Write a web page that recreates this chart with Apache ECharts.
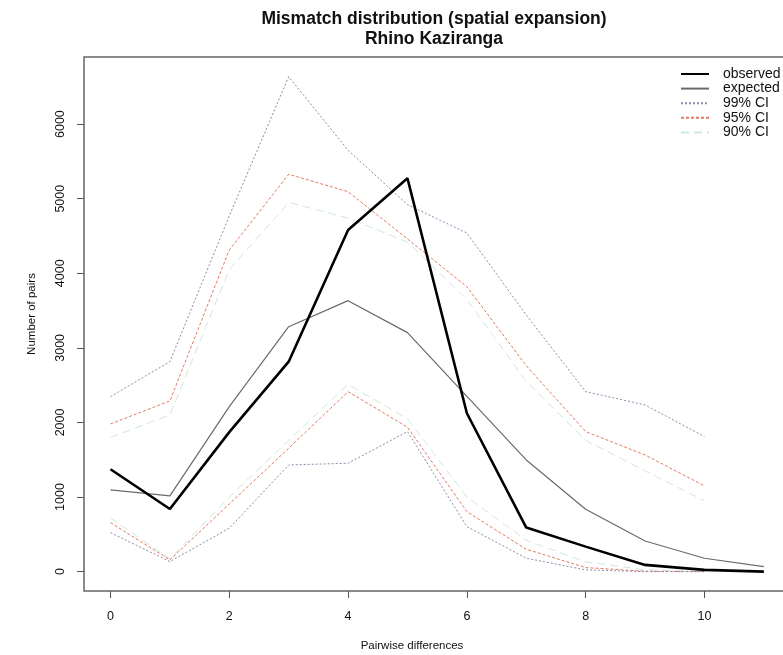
<!DOCTYPE html>
<html>
<head>
<meta charset="utf-8">
<script src="https://cdn.jsdelivr.net/npm/echarts@6/dist/echarts.min.js"></script>
<style>html,body{margin:0;padding:0;background:#fff;}#c{width:783px;height:655px;}</style>
</head>
<body>
<div id="c"></div>
<script>
var xs = [0, 1, 2, 3, 4, 5, 6, 7, 8, 9, 10, 11];
var observed = [1372, 840, 1870, 2815, 4580, 5273, 2123, 590, 335, 90, 23, 0];
var expected = [1095, 1015, 2212, 3284, 3633, 3204, 2350, 1497, 836, 411, 179, 67];
var ci99Upper = [2346, 2815, 4770, 6635, 5650, 4920, 4540, 3440, 2413, 2235, 1810];
var ci99Lower = [523, 134, 582, 1430, 1453, 1877, 603, 180, 23, 0, 0];
var ci95Upper = [1980, 2288, 4312, 5327, 5094, 4460, 3820, 2760, 1877, 1564, 1149];
var ci95Lower = [657, 157, 907, 1654, 2413, 1936, 804, 300, 54, 5, 0];
var ci90Upper = [1800, 2100, 4050, 4950, 4740, 4420, 3650, 2550, 1760, 1350, 950];
var ci90Lower = [720, 170, 1000, 1760, 2510, 2050, 1000, 420, 130, 25, 0];
var yTicks = [0, 1000, 2000, 3000, 4000, 5000, 6000];
var xTicks = [0, 2, 4, 6, 8, 10];

function pts(arr) { return arr.map(function (v, i) { return [xs[i], v]; }); }

var FONT = '"Liberation Sans", Arial, sans-serif';
var C99 = '#9289ab', C95 = '#e27b62', C90 = '#cde8df';

function ser(name, data, color, width, type) {
  return {
    name: name, type: 'line', data: pts(data), symbol: 'none', silent: true,
    lineStyle: { color: color, width: width, type: type }, itemStyle: { color: color },
    emphasis: { disabled: true }, animation: false
  };
}

var chart = echarts.init(document.getElementById('c'), null, { renderer: 'canvas' });
chart.setOption({
  backgroundColor: '#fff',
  animation: false,
  title: {
    text: 'Mismatch distribution (spatial expansion)\nRhino Kaziranga',
    left: 429, top: 4, textAlign: 'center',
    textStyle: { fontFamily: FONT, fontSize: 17.5, fontWeight: 'bold', color: '#111', lineHeight: 20 }
  },
  legend: {
    orient: 'vertical', left: 680, top: 67, padding: 0, itemWidth: 28, itemHeight: 10, itemGap: 0.6,
    data: ['observed', 'expected', '99% CI', '95% CI', '90% CI'],
    itemStyle: { opacity: 0 },
    textStyle: { fontFamily: FONT, fontSize: 14, lineHeight: 14, color: '#111', padding: [0, 0, 0, 9] },
    selectedMode: false
  },
  grid: { left: 84, top: 57, width: 706, height: 534, containLabel: false, outerBoundsMode: 'none',
          show: true, borderColor: '#666', borderWidth: 1.5, backgroundColor: 'transparent' },
  xAxis: {
    type: 'value', min: -0.446, max: 11.44,
    name: 'Pairwise differences', nameLocation: 'middle', nameGap: 49,
    nameTextStyle: { fontFamily: FONT, fontSize: 11.5, color: '#111', padding: [0, 50, 0, 0] },
    axisLine: { show: false, onZero: false },
    axisTick: { show: true, inside: false, length: 7, customValues: xTicks, lineStyle: { color: '#555' } },
    axisLabel: { customValues: xTicks, fontFamily: FONT, fontSize: 12.5, color: '#111', margin: 19 },
    splitLine: { show: false }
  },
  yAxis: {
    type: 'value', min: -260, max: 6900,
    name: 'Number of pairs', nameLocation: 'middle', nameGap: 46,
    nameTextStyle: { fontFamily: FONT, fontSize: 11.5, color: '#111', padding: [0, 0, 0, 20] },
    axisLine: { show: false, onZero: false },
    axisTick: { show: true, inside: false, length: 7, customValues: yTicks, lineStyle: { color: '#555' } },
    axisLabel: { customValues: yTicks, formatter: function (v) { return String(v); },
                 fontFamily: FONT, fontSize: 12.5, color: '#111', rotate: 90, margin: 17 },
    splitLine: { show: false }
  },
  series: [
    ser('90% CI', ci90Upper, C90, 1, [8, 5]),
    ser('90% CI', ci90Lower, C90, 1, [8, 5]),
    ser('95% CI', ci95Upper, C95, 1, [3, 2]),
    ser('95% CI', ci95Lower, C95, 1, [3, 2]),
    ser('99% CI', ci99Upper, C99, 1, [2, 2]),
    ser('99% CI', ci99Lower, C99, 1, [2, 2]),
    ser('expected', expected, '#6a6a6a', 1.2, 'solid'),
    ser('observed', observed, '#000', 2.6, 'solid')
  ]
});
</script>
</body>
</html>
